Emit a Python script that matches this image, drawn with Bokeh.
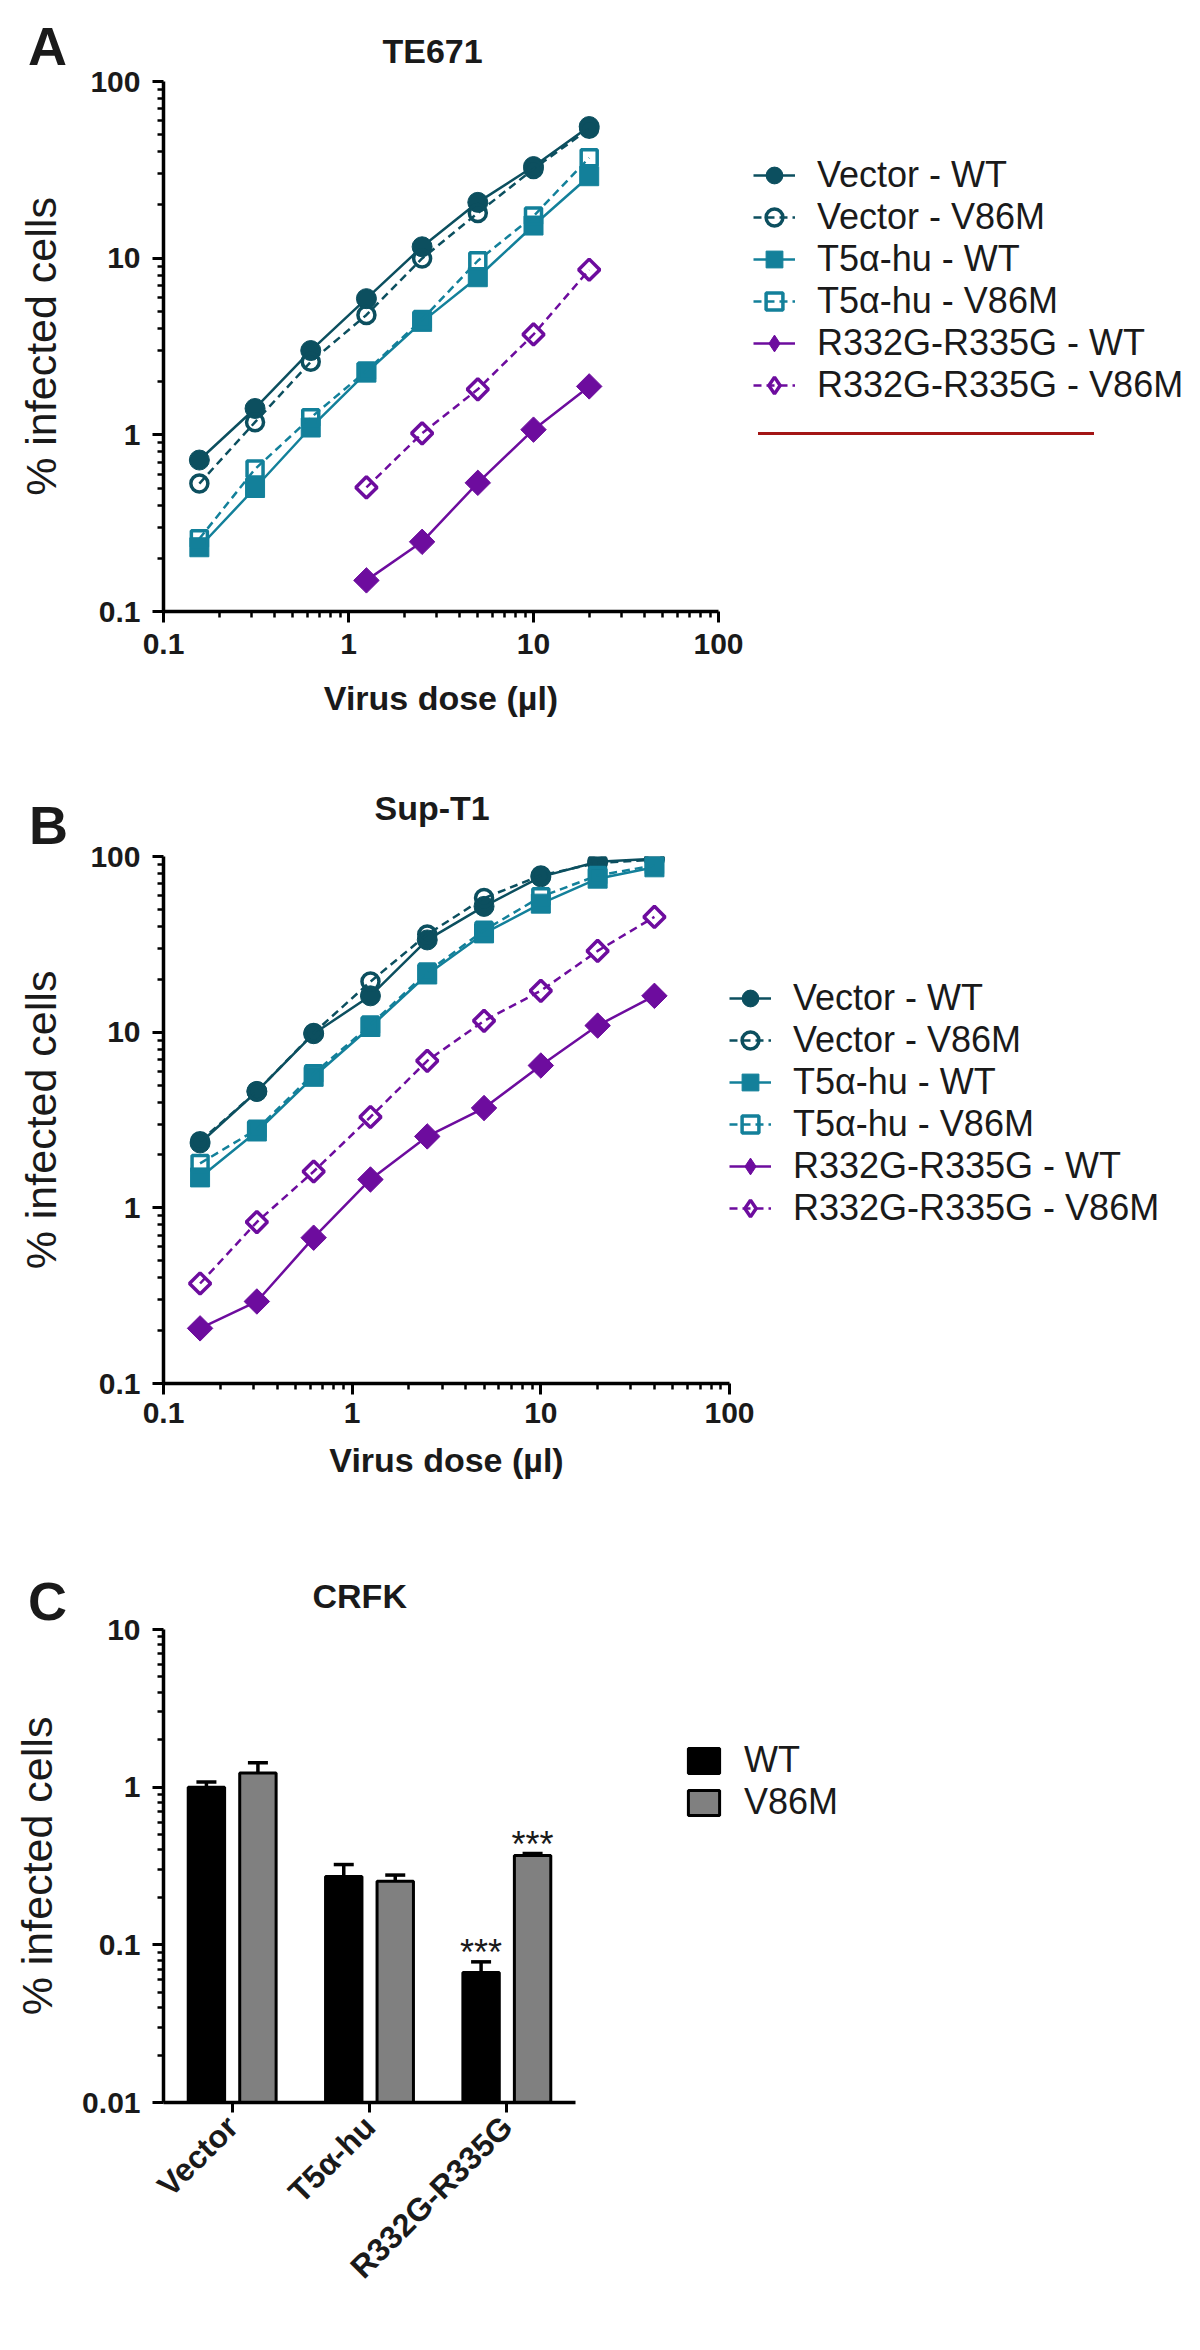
import numpy as np
from bokeh.plotting import figure
from bokeh.models import (FixedTicker, Legend, LegendItem, Whisker, ColumnDataSource,
                          FactorRange, TeeHead, CustomJSTickFormatter, Div)
from bokeh.layouts import column
from bokeh.transform import dodge
from bokeh.core.properties import value
from bokeh.embed import file_html
from bokeh.resources import INLINE

# ---------------- data ----------------
series_labels = ["Vector - WT", "Vector - V86M", "T5\u03b1-hu - WT", "T5\u03b1-hu - V86M",
                 "R332G-R335G - WT", "R332G-R335G - V86M"]
panel_titles = ["TE671", "Sup-T1", "CRFK"]
panel_letters = ["A", "B", "C"]

# Panel A : TE671
dose_A = [0.15625, 0.3125, 0.625, 1.25, 2.5, 5, 10, 20]
dose_A_r = [1.25, 2.5, 5, 10, 20]
vec_wt_A = [0.72, 1.41, 3.0, 5.9, 11.6, 20.7, 33, 55.6]
vec_v86m_A = [0.53, 1.18, 2.59, 4.77, 9.96, 18.0, 32, 54]
t5_wt_A = [0.231, 0.50, 1.10, 2.25, 4.36, 7.8, 15.3, 29.1]
t5_v86m_A = [0.258, 0.64, 1.25, 2.3, 4.5, 9.67, 17.3, 37]
r_wt_A = [0.150, 0.248, 0.535, 1.07, 1.88]
r_v86m_A = [0.504, 1.02, 1.81, 3.7, 8.6]

# Panel B : Sup-T1
dose_B = [0.15625, 0.3125, 0.625, 1.25, 2.5, 5, 10, 20, 40]
vec_wt_B = [2.34, 4.6, 9.8, 16.1, 33.5, 52, 76.6, 93.4, 97]
vec_v86m_B = [2.39, 4.6, 9.9, 19.4, 36, 58, 78, 92, 96]
t5_wt_B = [1.49, 2.72, 5.57, 10.7, 21.3, 36.5, 53.9, 74.8, 86.8]
t5_v86m_B = [1.79, 2.8, 5.8, 11.0, 22, 38, 59, 78, 89]
r_wt_B = [0.206, 0.293, 0.676, 1.45, 2.55, 3.70, 6.46, 10.9, 16.1]
r_v86m_B = [0.371, 0.83, 1.61, 3.29, 6.87, 11.6, 17.2, 29, 45.3]

# Panel C : CRFK
cats = ["Vector", "T5\u03b1-hu", "R332G-R335G"]
wt_mean = [1.0, 0.271, 0.0667]
wt_hi = [1.08, 0.323, 0.078]
wt_lo = [0.93, 0.22, 0.056]
v86m_mean = [1.23, 0.253, 0.369]
v86m_hi = [1.43, 0.277, 0.38]
v86m_lo = [1.05, 0.23, 0.356]
sig_wt = ["", "", "***"]
sig_v86m = ["", "", "***"]

log_ticks_line = [0.1, 1, 10, 100]
log_ticks_bar = [0.01, 0.1, 1, 10]

# ---------------- style ----------------
FONT = "Liberation Sans"
TXT = "#1a1a1a"
VEC = "#0c4f5f"
T5 = "#13809a"
RG = "#6d0c9e"
colors = [VEC, VEC, T5, T5, RG, RG]
markers = ["circle", "circle", "square", "square", "square", "square"]
legend_markers = ["circle", "circle", "square", "square", "diamond", "diamond"]
angles = [0, 0, 0, 0, np.pi / 4, np.pi / 4]
filled = [True, False, True, False, True, False]
sizes = [20, 17, 19, 16, 18, 15]

fmt = CustomJSTickFormatter(code="return String(tick);")


def minor_between(ticks):
    out = []
    for t in ticks[:-1]:
        out += [m * t for m in range(2, 10)]
    return out


def style_axis(ax, minor=True):
    ax.axis_line_width = 3.5
    ax.axis_line_color = "black"
    ax.major_tick_line_width = 3
    ax.major_tick_line_color = "black"
    ax.major_tick_out = 11
    ax.major_tick_in = 0
    ax.minor_tick_line_width = 2.5
    ax.minor_tick_line_color = "black" if minor else None
    ax.minor_tick_out = 6
    ax.minor_tick_in = 0
    ax.major_label_text_font = FONT
    ax.major_label_text_font_size = "30px"
    ax.major_label_text_font_style = "bold"
    ax.major_label_text_color = TXT
    ax.axis_label_text_font = FONT
    ax.axis_label_text_color = TXT


def style_title(p, text, offset, standoff):
    p.title.text = text
    p.title.align = "left"
    p.title.offset = offset
    p.title.standoff = standoff
    p.title.text_font = FONT
    p.title.text_font_size = "34px"
    p.title.text_font_style = "bold"
    p.title.text_color = TXT


def line_panel(title, t_off, t_std, ys, frame_w, frame_h, borders, legend_xy, tick_std, lab_std):
    p = figure(x_axis_type="log", y_axis_type="log",
               x_range=(log_ticks_line[0], log_ticks_line[-1]),
               y_range=(log_ticks_line[0], log_ticks_line[-1]),
               frame_width=frame_w, frame_height=frame_h,
               min_border_left=borders[0], min_border_right=borders[1],
               min_border_top=borders[2], min_border_bottom=borders[3],
               toolbar_location=None, output_backend="svg")
    p.outline_line_color = None
    p.grid.visible = False
    style_title(p, title, t_off, t_std)

    for ax in (p.xaxis[0], p.yaxis[0]):
        style_axis(ax)
        ax.ticker = FixedTicker(ticks=log_ticks_line, minor_ticks=minor_between(log_ticks_line))
        ax.formatter = fmt
    p.xaxis.major_label_standoff = tick_std
    p.yaxis.major_label_standoff = 12
    p.xaxis.axis_label = "Virus dose (\u00b5l)"
    p.xaxis.axis_label_text_font_size = "34px"
    p.xaxis.axis_label_text_font_style = "bold"
    p.xaxis.axis_label_standoff = lab_std
    p.yaxis.axis_label = "% infected cells"
    p.yaxis.axis_label_text_font_size = "43px"
    p.yaxis.axis_label_text_font_style = "normal"
    p.yaxis.axis_label_standoff = 22

    items = []
    for i, (xs, yv) in enumerate(ys):
        dash = "solid" if filled[i] else "8 5"
        lr = p.line(xs, yv, line_color=colors[i], line_width=2.5, line_dash=dash)
        style = dict(fill_color=colors[i], line_color=colors[i], line_width=1) if filled[i] \
            else dict(fill_color=None, line_color=colors[i], line_width=3.5)
        sr = p.scatter(xs, yv, marker=markers[i], size=sizes[i], angle=angles[i], **style)
        if legend_markers[i] != markers[i]:
            # zero-size twin: only its legend swatch (a diamond) is visible,
            # because legend swatches are drawn without rotation
            sr = p.scatter(xs, yv, marker=legend_markers[i], size=0, **style)
        items.append(LegendItem(label=series_labels[i], renderers=[lr, sr]))

    leg = Legend(items=items, location=legend_xy, orientation="vertical",
                 padding=0, margin=0, spacing=0, glyph_width=42, glyph_height=42,
                 label_height=42, label_standoff=22, label_text_font=FONT,
                 label_text_font_size="36px", label_text_color=TXT,
                 background_fill_alpha=0, border_line_alpha=0)
    p.add_layout(leg, "right")
    return p


# Panel A
pA = line_panel(panel_titles[0], 219, 24,
                [(dose_A, vec_wt_A), (dose_A, vec_v86m_A), (dose_A, t5_wt_A),
                 (dose_A, t5_v86m_A), (dose_A_r, r_wt_A), (dose_A_r, r_v86m_A)],
                555, 530, (163, 482, 81, 134), (35, 205), 11, 22)

# Panel B
pB = line_panel(panel_titles[1], 211, 59,
                [(dose_B, vec_wt_B), (dose_B, vec_v86m_B), (dose_B, t5_wt_B),
                 (dose_B, t5_v86m_B), (dose_B, r_wt_B), (dose_B, r_v86m_B)],
                566, 527, (163, 471, 111, 172), (0, 154), 8, 15)

# Panel C
src = ColumnDataSource(dict(cats=cats, wt=wt_mean, wt_hi=wt_hi, wt_lo=wt_lo,
                            v=v86m_mean, v_hi=v86m_hi, v_lo=v86m_lo,
                            sig_wt=sig_wt, sig_v=sig_v86m))
pC = figure(x_range=FactorRange(*cats), y_axis_type="log",
            y_range=(log_ticks_bar[0], log_ticks_bar[-1]),
            frame_width=412, frame_height=473,
            min_border_left=163, min_border_right=625, min_border_top=74, min_border_bottom=244,
            toolbar_location=None, output_backend="svg")
pC.outline_line_color = None
pC.grid.visible = False
style_title(pC, panel_titles[2], 149, 29)

off = 0.1875
bw = 0.265
b1 = pC.vbar(x=dodge("cats", -off, range=pC.x_range), top="wt", bottom=log_ticks_bar[0],
             width=bw, fill_color="black", line_color="black", line_width=3, source=src)
b2 = pC.vbar(x=dodge("cats", off, range=pC.x_range), top="v", bottom=log_ticks_bar[0],
             width=bw, fill_color="#808080", line_color="black", line_width=3, source=src)
for key, o in (("wt", -off), ("v", off)):
    pC.add_layout(Whisker(base=dodge("cats", o, range=pC.x_range), upper=key + "_hi",
                          lower=key + "_lo", source=src, line_color="black", line_width=3.5,
                          upper_head=TeeHead(size=20, line_width=3.5, line_color="black"),
                          lower_head=TeeHead(size=20, line_width=3.5, line_color="black")))
for key, o in (("wt", -off), ("v", off)):
    pC.text(x=dodge("cats", o, range=pC.x_range), y=key + "_hi", text="sig_" + key, source=src,
            text_font=value(FONT), text_font_size="36px", text_align="center",
            text_baseline="alphabetic", y_offset=-9, text_color=TXT)

style_axis(pC.yaxis[0])
pC.yaxis.ticker = FixedTicker(ticks=log_ticks_bar, minor_ticks=minor_between(log_ticks_bar))
pC.yaxis.formatter = fmt
pC.yaxis.major_label_standoff = 12
pC.yaxis.axis_label = "% infected cells"
pC.yaxis.axis_label_text_font_size = "43px"
pC.yaxis.axis_label_text_font_style = "normal"
pC.yaxis.axis_label_standoff = 18
style_axis(pC.xaxis[0], minor=False)
pC.xaxis.major_tick_out = 10
pC.xaxis.major_label_orientation = np.pi / 4
pC.xaxis.major_label_standoff = 9
pC.xaxis.major_label_text_font_size = "32px"

pC.add_layout(Legend(items=[LegendItem(label="WT", renderers=[b1]),
                            LegendItem(label="V86M", renderers=[b2])],
                     location=(109, 279), padding=0, margin=0, spacing=0,
                     glyph_width=39, glyph_height=31, label_height=40, label_standoff=21,
                     label_text_font=FONT, label_text_font_size="36px", label_text_color=TXT,
                     background_fill_alpha=0, border_line_alpha=0), "right")

# Overlay with the panel letters and the dark-red rule under legend A
letter_pos = [(23, 14), (24, 793), (23, 1569)]
spans = "".join(
    f'<div style="position:absolute;left:{x}px;top:{y}px">{t}</div>'
    for t, (x, y) in zip(panel_letters, letter_pos))
overlay_html = (
    '<div style="position:relative;width:1200px;height:2350px;'
    "font-family:'Liberation Sans',Arial,sans-serif;font-weight:bold;font-size:54px;"
    'line-height:54px;color:#1a1a1a">' + spans +
    '<div style="position:absolute;left:753px;top:427px;width:336px;height:3px;'
    'background:#a31515"></div></div>')
overlay = Div(text=overlay_html, width=1200, height=2350,
              styles={"position": "absolute", "top": "0px", "left": "0px",
                      "z-index": "10", "pointer-events": "none"})

layout = column(pA, pB, pC, overlay, spacing=0)
open("out.html", "w").write(file_html(layout, INLINE))
